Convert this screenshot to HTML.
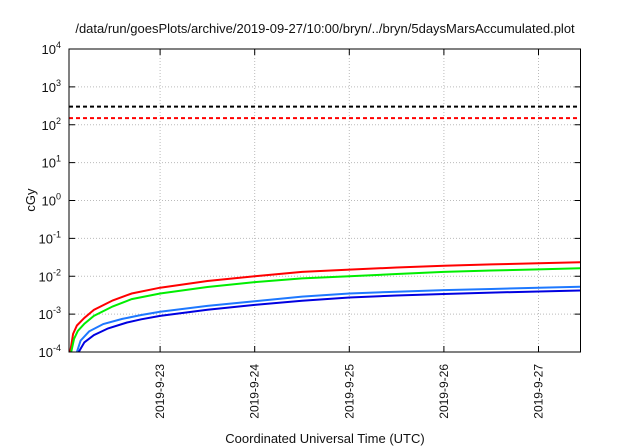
<!DOCTYPE html>
<html><head><meta charset="utf-8"><style>
body{margin:0;background:#fff}
svg{display:block;font-family:"Liberation Sans",sans-serif}
</style></head><body>
<svg id="chart" width="640" height="448" viewBox="0 0 640 448" xmlns="http://www.w3.org/2000/svg">
<rect width="640" height="448" fill="#fff"/>
<text x="325" y="33" font-size="13" text-anchor="middle" fill="#111">/data/run/goesPlots/archive/2019-09-27/10:00/bryn/../bryn/5daysMarsAccumulated.plot</text>
<g id="grid"></g>
<g id="series"></g>
<rect x="69" y="49" width="511.5" height="303" fill="none" stroke="#000" stroke-width="1"/>
<g id="axes"></g>
<text transform="translate(35,200) rotate(-90)" font-size="13" text-anchor="middle" fill="#111">cGy</text>
<text x="325" y="443" font-size="13" text-anchor="middle" fill="#111">Coordinated Universal Time (UTC)</text>
</svg>
<script>
// days since 2019-09-22 00:00 UTC
const xTickLabels = ["2019-9-23","2019-9-24","2019-9-25","2019-9-26","2019-9-27"];
const xTickDays = [1,2,3,4,5];
const yTickExps = [-4,-3,-2,-1,0,1,2,3,4];
const thresholdValues = [300,150];
const thresholdColors = ["#000","#f00"];
const redDays = [0.05,0.08,0.12,0.2,0.3,0.5,0.7,1.0,1.5,2.0,2.5,3.0,3.5,4.0,4.5,5.0,5.44];
const redVals = [1e-4,3e-4,5e-4,8e-4,1.3e-3,2.3e-3,3.5e-3,5e-3,7.5e-3,1e-2,1.3e-2,1.5e-2,1.7e-2,1.9e-2,2.05e-2,2.2e-2,2.35e-2];
const greenDays = [0.06,0.09,0.13,0.2,0.3,0.5,0.7,1.0,1.5,2.0,2.5,3.0,3.5,4.0,4.5,5.0,5.44];
const greenVals = [1e-4,2.2e-4,3.6e-4,5.6e-4,9e-4,1.6e-3,2.5e-3,3.5e-3,5.2e-3,7e-3,8.8e-3,1.0e-2,1.15e-2,1.3e-2,1.42e-2,1.52e-2,1.62e-2];
const lightBlueDays = [0.12,0.16,0.25,0.4,0.6,0.8,1.0,1.5,2.0,2.5,3.0,3.5,4.0,4.5,5.0,5.44];
const lightBlueVals = [1e-4,2e-4,3.5e-4,5.5e-4,7.5e-4,9.5e-4,1.15e-3,1.65e-3,2.2e-3,2.9e-3,3.5e-3,3.9e-3,4.3e-3,4.6e-3,5.0e-3,5.3e-3];
const darkBlueDays = [0.14,0.2,0.3,0.45,0.65,0.8,1.0,1.5,2.0,2.5,3.0,3.5,4.0,4.5,5.0,5.44];
const darkBlueVals = [1e-4,1.8e-4,2.8e-4,4.2e-4,6e-4,7.3e-4,9e-4,1.3e-3,1.75e-3,2.25e-3,2.75e-3,3.1e-3,3.4e-3,3.7e-3,3.95e-3,4.2e-3];

const L=69,R=580.5,T=49,B=352;
const d0=0.037,d1=5.444;
const xs=d=>L+(d-d0)/(d1-d0)*(R-L);
const ys=v=>B-(Math.log10(v)+4)/8*(B-T);
const NS="http://www.w3.org/2000/svg";
function mk(tag,attrs,parent){const e=document.createElementNS(NS,tag);for(const k in attrs)e.setAttribute(k,attrs[k]);parent.appendChild(e);return e;}
const grid=document.getElementById('grid'),axes=document.getElementById('axes'),series=document.getElementById('series');
yTickExps.forEach(e=>{
  const y=ys(Math.pow(10,e));
  if(e>-4&&e<4){const g=mk('line',{x1:L,x2:R,y1:y,y2:y,stroke:'#bbb','stroke-dasharray':'1,2'},grid);
  
  }
  mk('line',{x1:L,x2:L+6,y1:y,y2:y,stroke:'#000'},axes);
  mk('line',{x1:R,x2:R-6,y1:y,y2:y,stroke:'#000'},axes);
  const t=mk('text',{x:L-8,y:y+5,'font-size':13,'text-anchor':'end',fill:'#111'},axes);
  
  
  t.textContent='10';
  const s=mk('tspan',{dy:-6,'font-size':9},t);s.textContent=String(e);
});
xTickDays.forEach((d,i)=>{
  const x=xs(d);
  const g=mk('line',{x1:x,x2:x,y1:T,y2:B,stroke:'#bbb','stroke-dasharray':'1,2'},grid);
  
  
  mk('line',{x1:x,x2:x,y1:B,y2:B-6,stroke:'#000'},axes);
  mk('line',{x1:x,x2:x,y1:T,y2:T+6,stroke:'#000'},axes);
  const t=mk('text',{transform:`translate(${x+4},364) rotate(-90)`,'font-size':12,'text-anchor':'end',fill:'#111'},axes);
  
  
  t.textContent=xTickLabels[i];
});
thresholdValues.forEach((v,i)=>{
  const y=ys(v);
  const l=mk('line',{x1:L,x2:R,y1:y,y2:y,stroke:thresholdColors[i],'stroke-width':2,'stroke-dasharray':'4,3'},series);
  
  
});
[[redDays,redVals,'#f00','red-series'],[greenDays,greenVals,'#0e0','green-series'],[lightBlueDays,lightBlueVals,'#1e78ff','light-blue-series'],[darkBlueDays,darkBlueVals,'#0000e0','dark-blue-series']].forEach(([ds,vs,c,n])=>{
  const p=mk('polyline',{points:ds.map((d,i)=>xs(d).toFixed(1)+','+ys(vs[i]).toFixed(1)).join(' '),fill:'none',stroke:c,'stroke-width':2},series);
  
  
});
</script>
</body></html>
